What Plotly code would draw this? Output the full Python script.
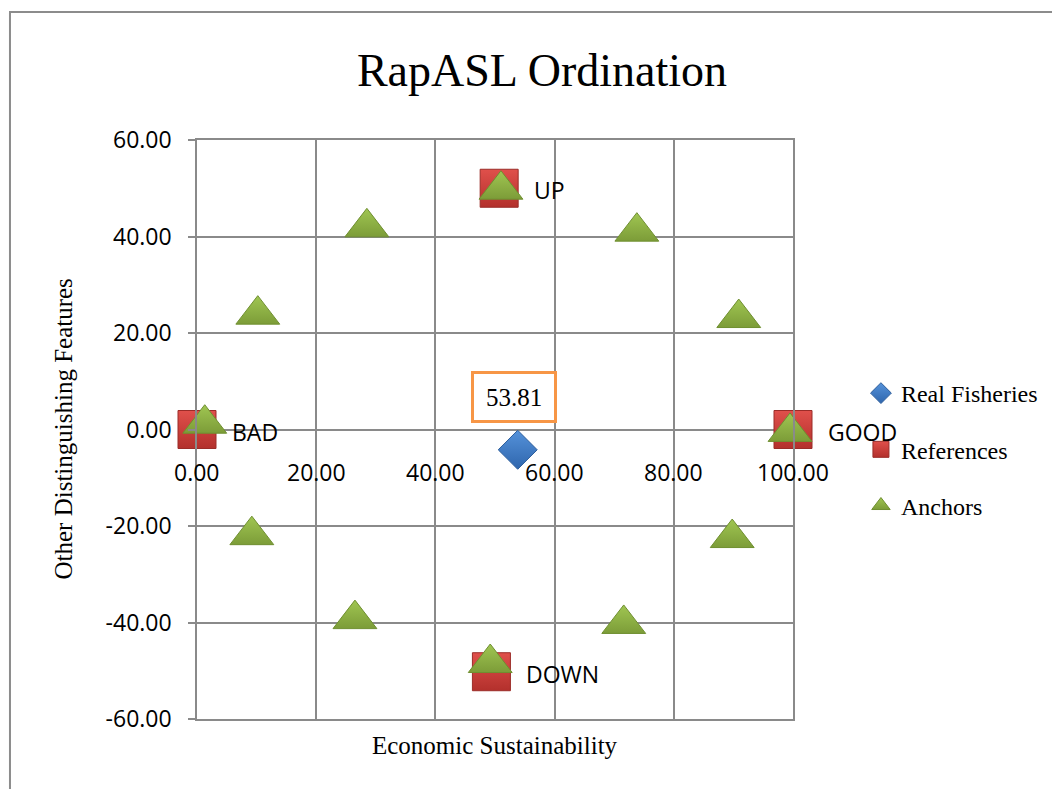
import plotly.graph_objects as go

# ---- data ----
real_x = [53.81]
real_y = [-4.2]
real_label = ["53.81"]

ref_names = ["BAD", "GOOD", "UP", "DOWN"]
ref_x = [0.0, 100.0, 50.7, 49.4]
ref_y = [0.0, 0.0, 50.0, -50.2]

anchor_x = [1.3, 10.2, 28.5, 51.0, 73.8, 90.9, 99.5, 89.8, 71.6, 49.2, 26.5, 9.2]
anchor_y = [1.2, 23.8, 41.9, 49.7, 41.0, 23.1, -0.5, -22.5, -40.3, -48.4, -39.3, -21.9]

x_ticks = [0, 20, 40, 60, 80, 100]
x_tick_labels = ["0.00", "20.00", "40.00", "60.00", "80.00", "100.00"]
y_ticks = [60, 40, 20, 0, -20, -40, -60]
y_tick_labels = ["60.00", "40.00", "20.00", "0.00", "-20.00", "-40.00", "-60.00"]

title_text = "RapASL Ordination"
x_title = "Economic Sustainability"
y_title = "Other Distinguishing Features"

SERIF = "Liberation Serif, DejaVu Serif, serif"
SANS = "Open Sans, Noto Sans, sans-serif"
GRID = "#8a8a8a"

fig = go.Figure()

fig.add_trace(go.Scatter(
    x=real_x, y=real_y, mode="markers", name="Real Fisheries",
    legendgroup="a", cliponaxis=False,
    marker=dict(symbol="diamond", size=30, color="#5592da",
                gradient=dict(type="vertical", color="#2f66ad"),
                line=dict(color="#2d5e9c", width=1)),
))
fig.add_trace(go.Scatter(
    x=ref_x, y=ref_y, mode="markers", name="References",
    legendgroup="b", cliponaxis=False,
    marker=dict(symbol="square", size=38, color="#e0504b",
                gradient=dict(type="vertical", color="#b3302c"),
                line=dict(color="#9b2c28", width=1)),
))
fig.add_trace(go.Scatter(
    x=anchor_x, y=anchor_y, mode="markers", name="Anchors",
    legendgroup="c", cliponaxis=False,
    marker=dict(symbol="triangle-up", size=38, color="#a0c652",
                gradient=dict(type="vertical", color="#7c9c38"),
                line=dict(color="#6f8f30", width=1)),
))

annotations = []
# x tick labels placed at the y=0 crossing
for xv, lab in zip(x_ticks, x_tick_labels):
    annotations.append(dict(x=xv, y=0, xref="x", yref="y", text=lab,
                            showarrow=False, xanchor="center", yanchor="middle",
                            yshift=-42, font=dict(family=SANS, size=23, color="black")))
# reference point labels
for xv, yv, lab in zip(ref_x, ref_y, ref_names):
    annotations.append(dict(x=xv, y=yv, xref="x", yref="y", text=lab,
                            showarrow=False, xanchor="left", yanchor="middle",
                            xshift=33, yshift=-2, font=dict(family=SANS, size=23, color="black")))
# data label for the real fisheries point
for xv, yv, lab in zip(real_x, real_y, real_label):
    annotations.append(dict(x=xv, y=yv, xref="x", yref="y", text=lab,
                            showarrow=False, xanchor="center", yanchor="middle",
                            xshift=-3.5, yshift=53, width=70, height=36,
                            bgcolor="white", bordercolor="#f79646", borderwidth=3,
                            borderpad=5, font=dict(family=SERIF, size=25, color="black")))
# axis titles
annotations.append(dict(x=0.5, y=-0.045, xref="paper", yref="paper", text=x_title,
                        showarrow=False, xanchor="center", yanchor="middle",
                        font=dict(family=SERIF, size=25, color="black")))
annotations.append(dict(x=-0.2248, y=0.5, xref="paper", yref="paper", text=y_title,
                        showarrow=False, xanchor="center", yanchor="middle", textangle=-90,
                        font=dict(family=SERIF, size=25, color="black")))

fig.update_layout(
    width=1052, height=781,
    margin=dict(l=189, r=267, t=132, b=70),
    paper_bgcolor="white", plot_bgcolor="white",
    title=dict(text=title_text, x=0.5076, y=0.9206, xanchor="center", yanchor="middle",
               xref="container", yref="container",
               font=dict(family=SERIF, size=46, color="black")),
    xaxis=dict(range=[0, 100], tickvals=x_ticks, showticklabels=False,
               showgrid=True, gridcolor=GRID, gridwidth=1.5,
               zeroline=False, showline=True, mirror=True,
               linecolor=GRID, linewidth=1.5, fixedrange=True),
    yaxis=dict(range=[-60, 60], tickvals=y_ticks, ticktext=y_tick_labels,
               showgrid=True, gridcolor=GRID, gridwidth=1.5,
               zeroline=True, zerolinecolor=GRID, zerolinewidth=1.5,
               showline=True, mirror=True, linecolor=GRID, linewidth=1.5,
               ticks="outside", ticklen=7, tickcolor=GRID, tickwidth=1.5,
               ticklabelstandoff=12,
               tickfont=dict(family=SANS, size=23, color="black"), fixedrange=True),
    legend=dict(x=1.114, y=0.601, xanchor="left", yanchor="top",
                font=dict(family=SERIF, size=24, color="black"),
                tracegroupgap=22, bgcolor="rgba(0,0,0,0)"),
    annotations=annotations,
    shapes=[dict(type="rect", xref="paper", yref="paper",
                 x0=-0.3138, x1=1.6, y0=-0.3, y1=1.2211,
                 line=dict(color="#8c8c8c", width=2), layer="below")],
    showlegend=True,
)

fig.write_html("out.html")
